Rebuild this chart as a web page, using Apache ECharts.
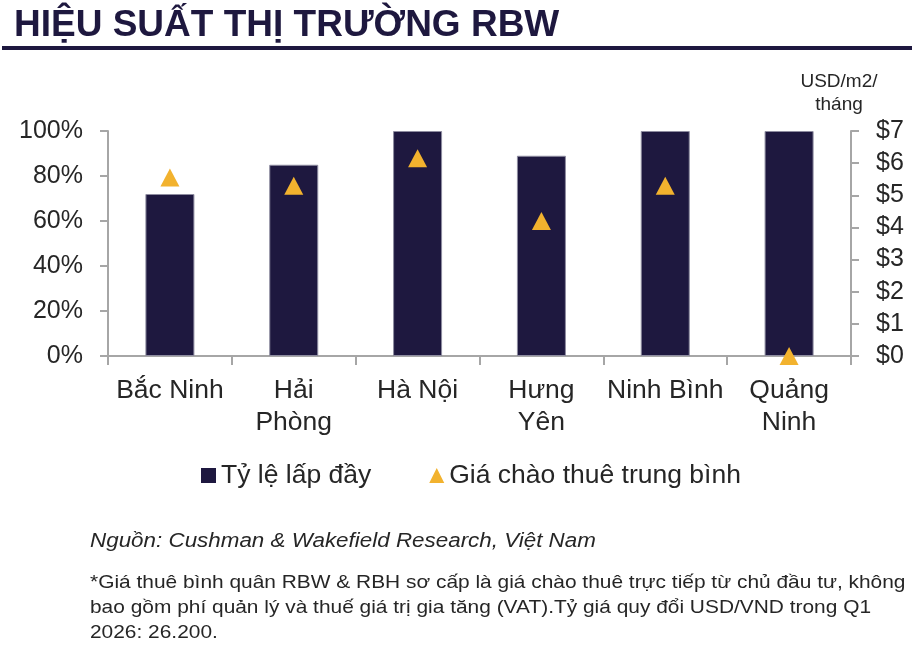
<!DOCTYPE html>
<html>
<head>
<meta charset="utf-8">
<script src="https://cdn.jsdelivr.net/npm/echarts@6/dist/echarts.min.js"></script>
<style>
html,body{margin:0;padding:0;background:#fff;}
#c{width:923px;height:652px;}
</style>
</head>
<body>
<div id="c"></div>
<script>
const categories = ['Bắc Ninh', 'Hải\nPhòng', 'Hà Nội', 'Hưng\nYên', 'Ninh Bình', 'Quảng\nNinh'];
const occupancy = [0.72, 0.85, 1.00, 0.89, 1.00, 1.00];
const rent = [5.55, 5.3, 6.15, 4.2, 5.3, 0];
const leftTicks = { min: 0, max: 1, interval: 0.2 };
const rightTicks = { min: 0, max: 7, interval: 1 };
const seriesNames = ['Tỷ lệ lấp đầy', 'Giá chào thuê trung bình'];

const NAVY = '#1e183f';
const GOLD = '#f2b22e';
const AXIS = '#a6a6a6';
const TXT = '#262626';
const FONT = '"Liberation Sans", Arial, sans-serif';

const chart = echarts.init(document.getElementById('c'), null, { renderer: 'canvas' });
chart.setOption({
  animation: false,
  backgroundColor: '#fff',
  textStyle: { fontFamily: FONT, color: TXT },
  grid: { left: 108, right: 72, top: 131, bottom: 296, containLabel: false },
  legend: {
    left: 196, top: 457,
    itemWidth: 15, itemHeight: 15, itemGap: 58,
    textStyle: { fontSize: 26.5, color: TXT, fontFamily: FONT },
    data: [
      { name: seriesNames[0], icon: 'rect', itemStyle: { color: NAVY, borderWidth: 0 } },
      { name: seriesNames[1], icon: 'triangle', itemStyle: { color: GOLD, opacity: 1 } }
    ]
  },
  xAxis: {
    type: 'category',
    data: categories,
    axisLine: { lineStyle: { color: AXIS, width: 2 } },
    axisTick: { show: true, length: 9, lineStyle: { color: AXIS, width: 2 }, alignWithLabel: false },
    axisLabel: { fontSize: 26.5, color: TXT, fontFamily: FONT, margin: 19, lineHeight: 32, interval: 0 }
  },
  yAxis: [
    {
      type: 'value', min: leftTicks.min, max: leftTicks.max, interval: leftTicks.interval,
      axisLine: { show: true, lineStyle: { color: AXIS, width: 2 } },
      axisTick: { show: true, length: 8, lineStyle: { color: AXIS, width: 2 } },
      splitLine: { show: false },
      axisLabel: { fontSize: 25, color: TXT, fontFamily: FONT, margin: 25,
        formatter: v => Math.round(v * 100) + '%' }
    },
    {
      type: 'value', min: rightTicks.min, max: rightTicks.max, interval: rightTicks.interval,
      position: 'right',
      axisLine: { show: true, lineStyle: { color: AXIS, width: 2 } },
      axisTick: { show: true, length: 8, lineStyle: { color: AXIS, width: 2 } },
      splitLine: { show: false },
      axisLabel: { fontSize: 25, color: TXT, fontFamily: FONT, margin: 25,
        formatter: v => '$' + v }
    }
  ],
  series: [
    {
      name: seriesNames[0], type: 'bar', yAxisIndex: 0, data: occupancy,
      barWidth: 49,
      itemStyle: { color: NAVY, borderColor: '#8e8ca0', borderWidth: 1 },
      z: 2
    },
    {
      name: seriesNames[1], type: 'scatter', yAxisIndex: 1, data: rent,
      symbol: 'triangle', symbolSize: [19, 18],
      itemStyle: { color: GOLD, opacity: 1 },
      clip: false, z: 5
    }
  ],
  graphic: [
    { type: 'text', x: 14, y: 7,
      style: { text: 'HIỆU SUẤT THỊ TRƯỜNG RBW', fill: NAVY, verticalAlign: 'top',
        font: 'bold 37px "Liberation Sans Narrow", "Arial Narrow", "Liberation Sans", sans-serif' } },
    { type: 'rect', shape: { x: 2, y: 46, width: 910, height: 4 }, style: { fill: NAVY } },
    { type: 'text', x: 839, y: 93,
      style: { text: 'USD/m2/\ntháng', fill: TXT, font: '19px "Liberation Sans", Arial, sans-serif',
        align: 'center', verticalAlign: 'middle', lineHeight: 23 } },
    { type: 'text', x: 90, y: 541, scaleX: 1.12,
      style: { text: 'Nguồn: Cushman & Wakefield Research, Việt Nam', fill: TXT,
        font: 'italic 20px "Liberation Sans", Arial, sans-serif', verticalAlign: 'middle' } },
    { type: 'text', x: 90, y: 570, scaleX: 1.1,
      style: { text: '*Giá thuê bình quân RBW & RBH sơ cấp là giá chào thuê trực tiếp từ chủ đầu tư, không\nbao gồm phí quản lý và thuế giá trị gia tăng (VAT).Tỷ giá quy đổi USD/VND trong Q1\n2026: 26.200.',
        fill: TXT, font: '19px "Liberation Sans", Arial, sans-serif', lineHeight: 25, verticalAlign: 'top' } }
  ]
});
</script>
</body>
</html>
